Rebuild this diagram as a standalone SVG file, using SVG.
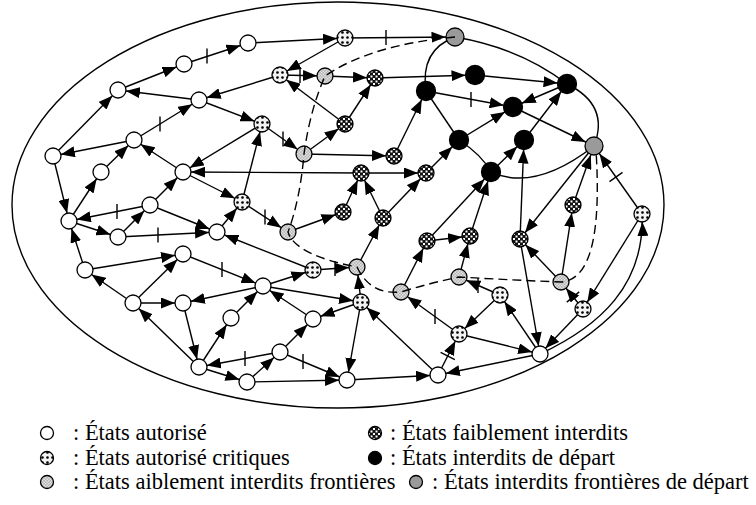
<svg xmlns="http://www.w3.org/2000/svg" width="756" height="505" viewBox="0 0 756 505">
<defs>
<style>
.e{stroke:#000;stroke-width:1.4;fill:none}
.a{marker-end:url(#ah)}
.b{marker-end:url(#ahb)}
.d{stroke:#000;stroke-width:1.4;fill:none;stroke-dasharray:9 5}
.t{stroke:#000;stroke-width:1.4;fill:none}
circle{stroke:#000;stroke-width:1.3}
.nw{fill:#fff}
.nc{fill:url(#pc)}
.nf{fill:url(#pf)}
.nk{fill:url(#pk)}
.nb{fill:#000}
.ng{fill:#9a9a9a}
</style>
<marker id="ah" markerUnits="userSpaceOnUse" markerWidth="23" markerHeight="11" refX="22" refY="5.5" orient="auto"><path d="M0,0 L14,5.5 L0,11 z" fill="#000"/></marker>
<marker id="ahb" markerUnits="userSpaceOnUse" markerWidth="24" markerHeight="11" refX="23.5" refY="5.5" orient="auto"><path d="M0,0 L14,5.5 L0,11 z" fill="#000"/></marker>
<pattern id="pc" width="5" height="5" patternUnits="userSpaceOnUse"><rect width="5" height="5" fill="#f3f3f3"/><circle cx="2.5" cy="2.5" r="0.7" fill="#888" stroke="none"/></pattern>
<pattern id="pf" width="3" height="3" patternUnits="userSpaceOnUse"><rect width="3" height="3" fill="#b4b4b4"/><rect width="1.5" height="1.5" fill="#e2e2e2"/><rect x="1.5" y="1.5" width="1.5" height="1.5" fill="#e2e2e2"/></pattern>
<pattern id="pk" width="5" height="5" patternUnits="userSpaceOnUse"><rect width="5" height="5" fill="#111"/><rect x="0.5" y="0.5" width="2" height="2" fill="#fff"/><rect x="3" y="3" width="2" height="2" fill="#fff"/></pattern>
</defs>
<rect width="756" height="505" fill="#fff"/>
<ellipse id="domain" cx="338" cy="205" rx="326" ry="203" fill="none" stroke="#000" stroke-width="1.4"/>

<g id="connectors">
<!-- boundary curves of the forbidden region -->
<path class="e" d="M455,37 Q420,50 426,91"/>
<path class="e" d="M426,91 L459,140"/>
<path class="e" d="M459,140 Q482,155 491,172"/>
<path class="e" d="M491,172 Q535,192 594,146"/>
<path class="e" d="M455,37 Q520,48 567,84"/>
<path class="e" d="M567,84 Q610,105 594,146"/>
<!-- transitions -->
<line class="e a" x1="118" y1="90" x2="184" y2="64"/>
<line class="e a" x1="184" y1="64" x2="248" y2="43"/>
<line class="e a" x1="248" y1="43" x2="345" y2="38"/>
<line class="e b" x1="345" y1="38" x2="455" y2="37"/>
<line class="e a" x1="345" y1="38" x2="280" y2="75"/>
<line class="e a" x1="280" y1="75" x2="325" y2="76"/>
<line class="e a" x1="280" y1="75" x2="199" y2="100"/>
<line class="e a" x1="345" y1="124" x2="280" y2="75"/>
<line class="e a" x1="325" y1="76" x2="375" y2="78"/>
<line class="e a" x1="345" y1="124" x2="375" y2="78"/>
<line class="e a" x1="304" y1="154" x2="345" y2="124"/>
<line class="e b" x1="375" y1="78" x2="475" y2="75"/>
<line class="e b" x1="475" y1="75" x2="567" y2="84"/>
<line class="e b" x1="426" y1="91" x2="513" y2="107"/>
<line class="e b" x1="567" y1="84" x2="513" y2="107"/>
<line class="e b" x1="513" y1="107" x2="594" y2="146"/>
<line class="e b" x1="524" y1="140" x2="567" y2="84"/>
<line class="e b" x1="459" y1="140" x2="513" y2="107"/>
<line class="e b" x1="491" y1="172" x2="524" y2="140"/>
<line class="e b" x1="520" y1="239" x2="524" y2="140"/>
<line class="e b" x1="394" y1="156" x2="426" y2="91"/>
<line class="e b" x1="426" y1="173" x2="459" y2="140"/>
<line class="e b" x1="427" y1="241" x2="491" y2="172"/>
<line class="e b" x1="470" y1="236" x2="491" y2="172"/>
<line class="e a" x1="427" y1="241" x2="470" y2="236"/>
<line class="e a" x1="459" y1="277" x2="470" y2="236"/>
<line class="e a" x1="401" y1="292" x2="427" y2="241"/>
<line class="e a" x1="383" y1="218" x2="426" y2="173"/>
<line class="e a" x1="383" y1="218" x2="361" y2="173"/>
<line class="e a" x1="343" y1="212" x2="361" y2="173"/>
<line class="e a" x1="361" y1="173" x2="426" y2="173"/>
<line class="e a" x1="361" y1="173" x2="183" y2="172"/>
<line class="e a" x1="357" y1="267" x2="383" y2="218"/>
<line class="e a" x1="288" y1="232" x2="343" y2="212"/>
<line class="e a" x1="242" y1="202" x2="288" y2="232"/>
<line class="e a" x1="304" y1="154" x2="394" y2="156"/>
<line class="e a" x1="262" y1="124" x2="304" y2="154"/>
<line class="e a" x1="199" y1="100" x2="262" y2="124"/>
<line class="e a" x1="242" y1="202" x2="262" y2="124"/>
<line class="e a" x1="262" y1="124" x2="183" y2="172"/>
<line class="e a" x1="183" y1="172" x2="242" y2="202"/>
<line class="e a" x1="217" y1="232" x2="242" y2="202"/>
<line class="e a" x1="199" y1="100" x2="118" y2="90"/>
<line class="e a" x1="53" y1="156" x2="118" y2="90"/>
<line class="e a" x1="134" y1="140" x2="53" y2="156"/>
<line class="e a" x1="134" y1="140" x2="199" y2="100"/>
<line class="e a" x1="101" y1="172" x2="134" y2="140"/>
<line class="e a" x1="183" y1="172" x2="134" y2="140"/>
<line class="e a" x1="69" y1="221" x2="101" y2="172"/>
<line class="e a" x1="53" y1="156" x2="69" y2="221"/>
<line class="e a" x1="150" y1="205" x2="69" y2="221"/>
<line class="e a" x1="69" y1="221" x2="118" y2="237"/>
<line class="e a" x1="118" y1="237" x2="150" y2="205"/>
<line class="e a" x1="150" y1="205" x2="183" y2="172"/>
<line class="e a" x1="150" y1="205" x2="217" y2="232"/>
<line class="e a" x1="118" y1="237" x2="217" y2="232"/>
<line class="e a" x1="313" y1="270" x2="217" y2="232"/>
<line class="e a" x1="85" y1="270" x2="69" y2="221"/>
<line class="e a" x1="85" y1="270" x2="183" y2="254"/>
<line class="e a" x1="133" y1="303" x2="85" y2="270"/>
<line class="e a" x1="133" y1="303" x2="183" y2="254"/>
<line class="e a" x1="183" y1="254" x2="263" y2="286"/>
<line class="e a" x1="263" y1="286" x2="313" y2="270"/>
<line class="e a" x1="313" y1="270" x2="357" y2="267"/>
<line class="e a" x1="263" y1="286" x2="361" y2="302"/>
<line class="e a" x1="263" y1="286" x2="183" y2="303"/>
<line class="e a" x1="231" y1="318" x2="263" y2="286"/>
<line class="e a" x1="313" y1="319" x2="263" y2="286"/>
<line class="e a" x1="361" y1="302" x2="313" y2="319"/>
<line class="e a" x1="361" y1="302" x2="357" y2="267"/>
<line class="e a" x1="361" y1="302" x2="347" y2="380"/>
<line class="e a" x1="438" y1="375" x2="361" y2="302"/>
<line class="e a" x1="133" y1="303" x2="183" y2="303"/>
<line class="e a" x1="183" y1="303" x2="199" y2="367"/>
<line class="e a" x1="199" y1="367" x2="133" y2="303"/>
<line class="e a" x1="199" y1="367" x2="231" y2="318"/>
<line class="e a" x1="199" y1="367" x2="247" y2="382"/>
<line class="e a" x1="280" y1="352" x2="199" y2="367"/>
<line class="e a" x1="280" y1="352" x2="313" y2="319"/>
<line class="e a" x1="247" y1="382" x2="280" y2="352"/>
<line class="e a" x1="280" y1="352" x2="347" y2="380"/>
<line class="e a" x1="247" y1="382" x2="347" y2="380"/>
<line class="e a" x1="347" y1="380" x2="438" y2="375"/>
<line class="e a" x1="540" y1="354" x2="438" y2="375"/>
<line class="e a" x1="438" y1="375" x2="459" y2="334"/>
<line class="e a" x1="459" y1="334" x2="401" y2="292"/>
<line class="e a" x1="459" y1="334" x2="540" y2="354"/>
<line class="e a" x1="500" y1="295" x2="459" y2="334"/>
<line class="e a" x1="500" y1="295" x2="459" y2="277"/>
<line class="e a" x1="540" y1="354" x2="500" y2="295"/>
<line class="e a" x1="520" y1="239" x2="540" y2="354"/>
<line class="e a" x1="561" y1="282" x2="520" y2="239"/>
<line class="e a" x1="594" y1="146" x2="520" y2="239"/>
<line class="e a" x1="561" y1="282" x2="573" y2="205"/>
<line class="e b" x1="573" y1="205" x2="594" y2="146"/>
<line class="e b" x1="642" y1="214" x2="594" y2="146"/>
<line class="e a" x1="642" y1="214" x2="583" y2="309"/>
<line class="e a" x1="583" y1="309" x2="540" y2="354"/>
<line class="e a" x1="583" y1="309" x2="561" y2="282"/>
<path class="e a" d="M540,354 C600,326 645,285 642,214"/>
<!-- blocked transitions (bars) -->
<path class="t" d="M207,48.5v15 M386,30v15 M300,68v15 M471,92v15 M265,209.5v15 M283,131.5v15 M160,116.5v15 M117,204v15 M158,227.5v15 M222,262v15 M335,261v15 M245,351v15 M303,354v15 M435,309v15 M478,278v15 M454.8,359.6L440.6,352.4 M622.5,172.4L609.5,181.6 M579.2,291.9L566.8,302.1"/>
</g>

<g id="nodes">
<g id="w1"><circle class="nw" cx="248" cy="43" r="8"/></g>
<g id="w2"><circle class="nw" cx="184" cy="64" r="8"/></g>
<g id="w3"><circle class="nw" cx="118" cy="90" r="8"/></g>
<g id="w4"><circle class="nw" cx="199" cy="100" r="8"/></g>
<g id="w5"><circle class="nw" cx="53" cy="156" r="8"/></g>
<g id="w6"><circle class="nw" cx="134" cy="140" r="8"/></g>
<g id="w7"><circle class="nw" cx="101" cy="172" r="8"/></g>
<g id="w8"><circle class="nw" cx="183" cy="172" r="8"/></g>
<g id="w9"><circle class="nw" cx="69" cy="221" r="8"/></g>
<g id="w10"><circle class="nw" cx="150" cy="205" r="8"/></g>
<g id="w11"><circle class="nw" cx="118" cy="237" r="8"/></g>
<g id="w12"><circle class="nw" cx="217" cy="232" r="8"/></g>
<g id="w13"><circle class="nw" cx="183" cy="254" r="8"/></g>
<g id="w14"><circle class="nw" cx="85" cy="270" r="8"/></g>
<g id="w15"><circle class="nw" cx="133" cy="303" r="8"/></g>
<g id="w16"><circle class="nw" cx="183" cy="303" r="8"/></g>
<g id="w17"><circle class="nw" cx="263" cy="286" r="8"/></g>
<g id="w18"><circle class="nw" cx="231" cy="318" r="8"/></g>
<g id="w19"><circle class="nw" cx="313" cy="319" r="8"/></g>
<g id="w20"><circle class="nw" cx="199" cy="367" r="8"/></g>
<g id="w21"><circle class="nw" cx="280" cy="352" r="8"/></g>
<g id="w22"><circle class="nw" cx="247" cy="382" r="8"/></g>
<g id="w23"><circle class="nw" cx="347" cy="380" r="8"/></g>
<g id="w24"><circle class="nw" cx="438" cy="375" r="8"/></g>
<g id="w25"><circle class="nw" cx="540" cy="354" r="8"/></g>
<g id="c1"><circle class="nc" cx="345" cy="38" r="8"/></g>
<g id="c2"><circle class="nc" cx="280" cy="75" r="8"/></g>
<g id="c3"><circle class="nc" cx="262" cy="124" r="8"/></g>
<g id="c4"><circle class="nc" cx="242" cy="202" r="8"/></g>
<g id="c5"><circle class="nc" cx="313" cy="270" r="8"/></g>
<g id="c6"><circle class="nc" cx="361" cy="302" r="8"/></g>
<g id="c7"><circle class="nc" cx="500" cy="295" r="8"/></g>
<g id="c8"><circle class="nc" cx="459" cy="334" r="8"/></g>
<g id="c9"><circle class="nc" cx="583" cy="309" r="8"/></g>
<g id="c10"><circle class="nc" cx="642" cy="214" r="8"/></g>
<g id="f1"><circle class="nf" cx="325" cy="76" r="8"/></g>
<g id="f2"><circle class="nf" cx="304" cy="154" r="8"/></g>
<g id="f3"><circle class="nf" cx="288" cy="232" r="8"/></g>
<g id="f4"><circle class="nf" cx="357" cy="267" r="8"/></g>
<g id="f5"><circle class="nf" cx="401" cy="292" r="8"/></g>
<g id="f6"><circle class="nf" cx="459" cy="277" r="8"/></g>
<g id="f7"><circle class="nf" cx="561" cy="282" r="8"/></g>
<g id="k1"><circle class="nk" cx="375" cy="78" r="8"/></g>
<g id="k2"><circle class="nk" cx="345" cy="124" r="8"/></g>
<g id="k3"><circle class="nk" cx="394" cy="156" r="8"/></g>
<g id="k4"><circle class="nk" cx="361" cy="173" r="8"/></g>
<g id="k5"><circle class="nk" cx="426" cy="173" r="8"/></g>
<g id="k6"><circle class="nk" cx="343" cy="212" r="8"/></g>
<g id="k7"><circle class="nk" cx="383" cy="218" r="8"/></g>
<g id="k8"><circle class="nk" cx="427" cy="241" r="8"/></g>
<g id="k9"><circle class="nk" cx="470" cy="236" r="8"/></g>
<g id="k10"><circle class="nk" cx="520" cy="239" r="8"/></g>
<g id="k11"><circle class="nk" cx="573" cy="205" r="8"/></g>
<g id="b1"><circle class="nb" cx="475" cy="75" r="9.5"/></g>
<g id="b2"><circle class="nb" cx="426" cy="91" r="9.5"/></g>
<g id="b3"><circle class="nb" cx="567" cy="84" r="9.5"/></g>
<g id="b4"><circle class="nb" cx="513" cy="107" r="9.5"/></g>
<g id="b5"><circle class="nb" cx="459" cy="140" r="9.5"/></g>
<g id="b6"><circle class="nb" cx="524" cy="140" r="9.5"/></g>
<g id="b7"><circle class="nb" cx="491" cy="172" r="9.5"/></g>
<g id="g1"><circle class="ng" cx="455" cy="37" r="9"/></g>
<g id="g2"><circle class="ng" cx="594" cy="146" r="9"/></g>
</g>

<!-- dashed frontier line through the boundary states -->
<path id="frontier" class="d" d="M455,37 Q370,45 325,76 Q310,110 304,154 Q300,200 288,232 Q295,255 357,267 Q370,295 401,292 Q430,283 459,277 Q510,280 561,282 C592,280 601,230 596,150"/>

<g id="legend" font-family="'Liberation Serif', 'Times New Roman', serif" font-size="22.5" fill="#000">
<circle class="nw" cx="47" cy="433" r="6.5"/>
<text x="73" y="440">: États autorisé</text>
<circle class="nc" cx="47" cy="458" r="6.5"/>
<text x="73" y="465">: États autorisé critiques</text>
<circle class="nf" cx="47" cy="482" r="6.5"/>
<text x="73" y="489">: États aiblement interdits frontières</text>
<circle class="nk" cx="375" cy="433" r="6.5"/>
<text x="390" y="440">: États faiblement interdits</text>
<circle class="nb" cx="375" cy="458" r="6.5"/>
<text x="390" y="465">: États interdits de départ</text>
<circle class="ng" cx="416" cy="482" r="6.5"/>
<text x="432" y="489">: États interdits frontières de départ</text>
</g>
</svg>
